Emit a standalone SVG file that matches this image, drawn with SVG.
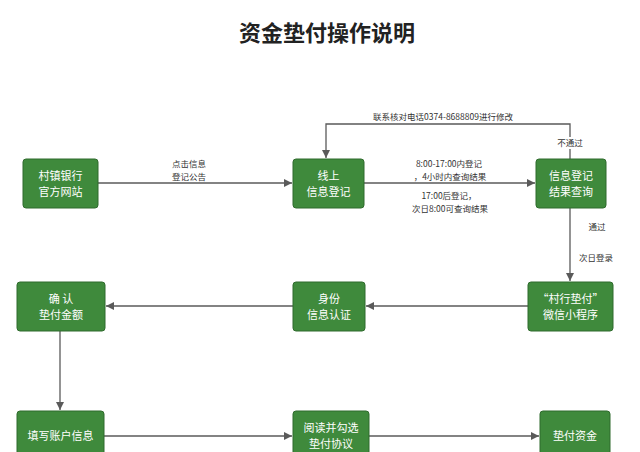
<svg xmlns="http://www.w3.org/2000/svg" width="640" height="452" viewBox="0 0 640 452">
<style>
.box{fill:#3f8a3c;stroke:#2f6b2d;stroke-width:1}
.nt{font-family:"Noto Sans CJK SC","Liberation Sans",sans-serif;font-size:11px;fill:#ffffff;text-anchor:middle}
.lb{font-family:"Noto Sans CJK SC","Liberation Sans",sans-serif;font-size:8.5px;fill:#333333;text-anchor:middle}
.ln{fill:none;stroke:#5a5a5a;stroke-width:1.3}
.title{font-family:"Noto Sans CJK SC","Liberation Sans",sans-serif;font-size:22px;font-weight:bold;fill:#222222;text-anchor:middle}
</style>
<defs>
<marker id="ah" viewBox="0 0 10 10" refX="10" refY="5" markerWidth="8" markerHeight="8" markerUnits="userSpaceOnUse" orient="auto">
<path d="M0,0 L10,5 L0,10 z" fill="#5a5a5a"/>
</marker>
</defs>
<rect width="640" height="452" fill="#ffffff"/>
<text class="title" x="327" y="41">资金垫付操作说明</text>
<g id="connectors">
<path class="ln" d="M98,183 L292,183" marker-end="url(#ah)"/>
<path class="ln" d="M364,183 L535,183" marker-end="url(#ah)"/>
<path class="ln" d="M570,159 L570,124 L326,124 L326,158" marker-end="url(#ah)"/>
<path class="ln" d="M570,208 L570,281" marker-end="url(#ah)"/>
<path class="ln" d="M528,306 L366,306" marker-end="url(#ah)"/>
<path class="ln" d="M293,306 L106,306" marker-end="url(#ah)"/>
<path class="ln" d="M60,331 L60,410" marker-end="url(#ah)"/>
<path class="ln" d="M104,436 L292,436" marker-end="url(#ah)"/>
<path class="ln" d="M369,436 L539,436" marker-end="url(#ah)"/>
<text class="lb" x="189" y="167">点击信息</text>
<text class="lb" x="189" y="179.5">登记公告</text>
<text class="lb" x="443" y="120">联系核对电话0374-8688809进行修改</text>
<rect x="555" y="137" width="30" height="12" fill="#ffffff"/>
<text class="lb" x="570" y="146">不通过</text>
<text class="lb" x="449" y="167">8:00-17:00内登记</text>
<text class="lb" x="450" y="179.5">，4小时内查询结果</text>
<text class="lb" x="449" y="199">17:00后登记，</text>
<text class="lb" x="450" y="211.5">次日8:00可查询结果</text>
<text class="lb" x="597" y="230">通过</text>
<text class="lb" x="596" y="261">次日登录</text>
</g>
<g id="n1"><rect class="box" x="23" y="159" width="75" height="49" rx="3"/><text class="nt" x="60.5" y="180">村镇银行</text><text class="nt" x="60.5" y="196">官方网站</text></g>
<g id="n2"><rect class="box" x="293" y="159" width="71" height="49" rx="3"/><text class="nt" x="328.5" y="180">线上</text><text class="nt" x="328.5" y="196">信息登记</text></g>
<g id="n3"><rect class="box" x="536" y="159" width="70" height="49" rx="3"/><text class="nt" x="571" y="180">信息登记</text><text class="nt" x="571" y="196">结果查询</text></g>
<g id="n4"><rect class="box" x="528" y="282" width="85" height="49" rx="3"/><text class="nt" x="570.5" y="303">“村行垫付”</text><text class="nt" x="570.5" y="319">微信小程序</text></g>
<g id="n5"><rect class="box" x="293" y="282" width="72" height="49" rx="3"/><text class="nt" x="329" y="303">身份</text><text class="nt" x="329" y="319">信息认证</text></g>
<g id="n6"><rect class="box" x="17" y="282" width="88" height="49" rx="3"/><text class="nt" x="61" y="303" xml:space="preserve">确 认</text><text class="nt" x="61" y="319">垫付金额</text></g>
<g id="n7"><rect class="box" x="17" y="411" width="87" height="49" rx="3"/><text class="nt" x="60.5" y="440">填写账户信息</text></g>
<g id="n8"><rect class="box" x="293" y="411" width="76" height="49" rx="3"/><text class="nt" x="331" y="432">阅读并勾选</text><text class="nt" x="331" y="448">垫付协议</text></g>
<g id="n9"><rect class="box" x="540" y="411" width="70" height="49" rx="3"/><text class="nt" x="575" y="440">垫付资金</text></g>
</svg>
